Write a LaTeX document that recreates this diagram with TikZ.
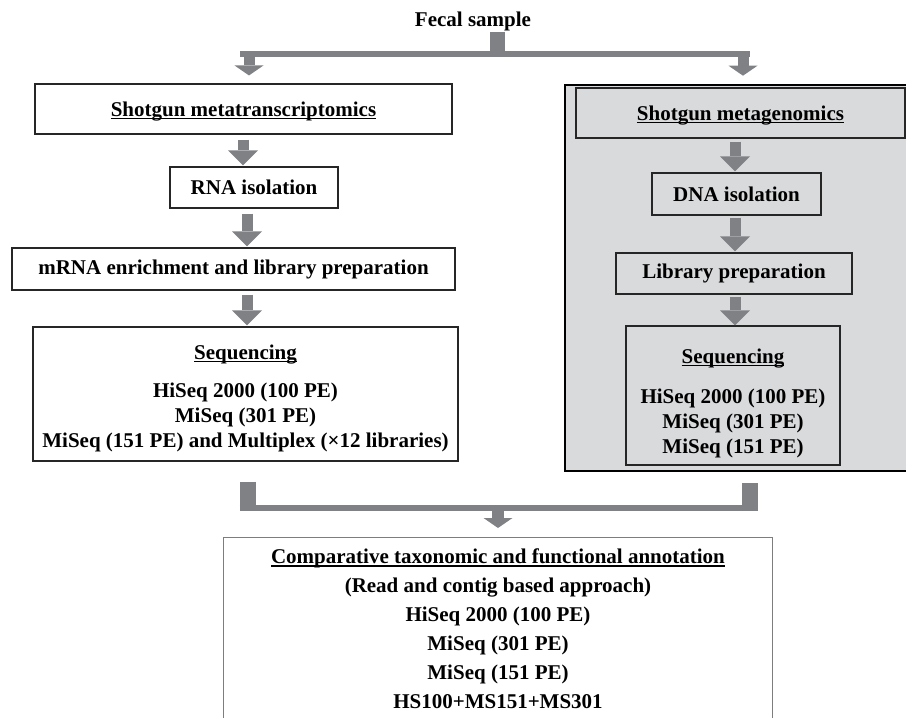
\documentclass[tikz,border=0pt]{standalone}
\usepackage{fontspec}
\setmainfont{Liberation Serif}
\usetikzlibrary{arrows.meta}
\definecolor{arrowgray}{RGB}{128,129,133}
\definecolor{panelgray}{RGB}{217,218,220}
\definecolor{framegray}{RGB}{125,125,125}
\newsavebox{\undlbox}
\newcommand{\undl}[1]{\sbox{\undlbox}{#1}\rlap{\rule[-2.6pt]{\wd\undlbox}{1.1pt}}\usebox{\undlbox}}
\begin{document}
\begin{tikzpicture}[x=1pt,y=-1pt,
    every node/.style={font=\fontsize{21}{25}\selectfont\bfseries},
    stepbox/.style={draw=black!85,line width=1.1pt,inner sep=0pt,align=center},
    panel/.style={draw=black,fill=panelgray,line width=2.6pt},
    blockarrow/.style={draw=arrowgray,line width=11pt,-{Triangle[length=15pt,width=30pt,line width=0pt]}},
    smallarrow/.style={draw=arrowgray,line width=11pt,-{Triangle[length=10pt,width=29pt,line width=0pt]}},
    stem/.style={draw=arrowgray,line width=15pt},
    bar/.style={draw=arrowgray,line width=6pt}]
    \useasboundingbox (0,0) rectangle (906,718);
    \clip (0,0) rectangle (906,718);

    \node[inner sep=0pt] (fecal) at (473,21) {Fecal sample};

    % left column: RNA
    \node[stepbox,minimum width=417,minimum height=50] (meta_t) at (243.5,109) {\rule{0pt}{19pt}\undl{Shotgun metatranscriptomics}};
    \node[stepbox,minimum width=168,minimum height=41] (rna) at (254,187.5) {RNA isolation};
    \node[stepbox,minimum width=443,minimum height=42] (mrna) at (233.5,269) {mRNA enrichment and library preparation};
    \node[stepbox,minimum width=425,minimum height=134] (seq_l) at (245.5,394) {\rule{0pt}{24pt}\undl{Sequencing}\\[13pt] HiSeq 2000 (100 PE)\\ MiSeq (301 PE)\\ MiSeq (151 PE) and Multiplex (×12 libraries)};

    % right column: DNA
    \node[panel,minimum width=350,minimum height=386] (wgs) at (740,278) {};
    \node[stepbox,minimum width=329,minimum height=50] (meta_g) at (740.5,113) {\rule{0pt}{19pt}\undl{Shotgun metagenomics}};
    \node[stepbox,minimum width=169,minimum height=42] (dna) at (736.5,194) {DNA isolation};
    \node[stepbox,minimum width=236,minimum height=41] (lib) at (734,273.5) {Library preparation};
    \node[stepbox,minimum width=214,minimum height=139] (seq_r) at (733,395.5) {\rule{0pt}{30pt}\undl{Sequencing}\\[15pt] HiSeq 2000 (100 PE)\\ MiSeq (301 PE)\\ MiSeq (151 PE)};

    \node[anchor=north,inner xsep=0pt,inner ysep=12pt,minimum width=548,align=center] (anno) at (498,537) {\undl{Comparative taxonomic and functional annotation}\\[4pt] (Read and contig based approach)\\[4pt] HiSeq 2000 (100 PE)\\[4pt] MiSeq (301 PE)\\[4pt] MiSeq (151 PE)\\[4pt] HS100+MS151+MS301};
    \draw[draw=framegray,line width=1pt] ([yshift=-30pt]anno.south west) |- (anno.north east) -- ([yshift=-30pt]anno.south east);

    % fork below the sample
    \coordinate (split) at (497,57);
    \coordinate (forkL) at (240,54);
    \coordinate (forkR) at (750,54);
    \coordinate (dropL) at (249,57);
    \coordinate (dropR) at (743,57);
    \draw[stem] ([yshift=-1pt]fecal.south -| split) -- (split);
    \draw[bar] (forkL) -- (forkR);
    \draw[smallarrow] (dropL) -- ([yshift=8pt]dropL |- meta_t.north);
    \draw[smallarrow] (dropR) -- ([yshift=8pt]dropR |- wgs.north);

    % steps
    \coordinate (colL) at (247,0);
    \coordinate (colR) at (735,0);
    \draw[blockarrow] ([yshift=-5pt]meta_t.south -| 243,0) -- ([yshift=1pt]rna.north -| 243,0);
    \draw[blockarrow] ([yshift=-5pt]rna.south -| colL) -- ([yshift=1pt]mrna.north -| colL);
    \draw[blockarrow] ([yshift=-4pt]mrna.south -| colL) -- ([yshift=1pt]seq_l.north -| colL);
    \draw[blockarrow] ([yshift=-3pt]meta_g.south -| colR) -- ([yshift=1pt]dna.north -| colR);
    \draw[blockarrow] ([yshift=-2pt]dna.south -| colR) -- ([yshift=1pt]lib.north -| colR);
    \draw[blockarrow] ([yshift=-2pt]lib.south -| colR) -- (seq_r.north -| colR);

    % merge into the annotation
    \coordinate (joinL) at (247.5,508);
    \coordinate (joinR) at (750,508);
    \coordinate (merge) at (498,511);
    \draw[stem,line width=16pt] ([yshift=-20pt]seq_l.south -| joinL) -- ([yshift=-3pt]joinL);
    \draw[stem,line width=16pt] ([yshift=-11pt]wgs.south -| joinR) -- ([yshift=-3pt]joinR);
    \draw[bar] ([xshift=-8pt]joinL) -- ([xshift=8pt]joinR);
    \draw[smallarrow,line width=12pt] (merge) -- ([yshift=9pt]anno.north -| merge);
\end{tikzpicture}
\end{document}
